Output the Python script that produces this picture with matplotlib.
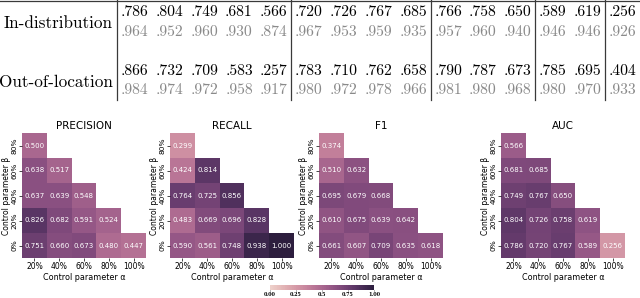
import numpy as np
import matplotlib
matplotlib.use("Agg")
import matplotlib.pyplot as plt
import seaborn as sns

# table values (top = black, bottom = gray)
row_names = ["In-distribution", "Out-of-location"]
group_sizes = [5, 4, 3, 2, 1]
in_top = [.786, .804, .749, .681, .566, .720, .726, .767, .685, .766, .758, .650, .589, .619, .256]
in_bot = [.964, .952, .960, .930, .874, .967, .953, .959, .935, .957, .960, .940, .946, .946, .926]
out_top = [.866, .732, .709, .583, .257, .783, .710, .762, .658, .790, .787, .673, .785, .695, .404]
out_bot = [.984, .974, .972, .958, .917, .980, .972, .978, .966, .981, .980, .968, .980, .970, .933]

# heatmaps: rows beta 80% -> 0%, columns alpha 20% -> 100%
alpha_labels = ["20%", "40%", "60%", "80%", "100%"]
beta_labels = ["80%", "60%", "40%", "20%", "0%"]
precision = [[0.500],
             [0.638, 0.517],
             [0.637, 0.639, 0.548],
             [0.826, 0.682, 0.591, 0.524],
             [0.751, 0.660, 0.673, 0.480, 0.447]]
recall = [[0.299],
          [0.424, 0.814],
          [0.764, 0.725, 0.856],
          [0.483, 0.669, 0.696, 0.828],
          [0.590, 0.561, 0.748, 0.938, 1.000]]
f1 = [[0.374],
      [0.510, 0.632],
      [0.695, 0.679, 0.668],
      [0.610, 0.675, 0.639, 0.642],
      [0.661, 0.607, 0.709, 0.635, 0.618]]
auc = [[0.566],
       [0.681, 0.685],
       [0.749, 0.767, 0.650],
       [0.804, 0.726, 0.758, 0.619],
       [0.786, 0.720, 0.767, 0.589, 0.256]]
panels = [("PRECISION", precision), ("RECALL", recall), ("F1", f1), ("AUC", auc)]
cbar_ticks = [0.0, 0.25, 0.5, 0.75, 1.0]
cbar_ticklabels = ["0.00", "0.25", "0.5", "0.75", "1.00"]

W, H = 640, 298
fig = plt.figure(figsize=(W / 100, H / 100), dpi=100)
cmap = sns.cubehelix_palette(as_cmap=True)

# ---- table on top, pixel coordinates
tab = fig.add_axes([0, 0, 1, 1])
tab.set_xlim(0, W)
tab.set_ylim(H, 0)
tab.axis("off")

x0, slot = 117, 34.85
bounds = [x0]
for g in group_sizes:
    bounds.append(bounds[-1] + g * slot)
for b in bounds[:-1]:
    tab.plot([b, b], [0, 100], color="#3a3a3a", lw=0.9)
tab.plot([0, W], [0.6, 0.6], color="#3a3a3a", lw=0.9)

centers = [x0 + slot * (i + 0.5) for i in range(len(in_top))]
rows = [(in_top, in_bot, 12, 32, 23), (out_top, out_bot, 71, 90, 82)]
for (top, bot, yt, yb, yl), name in zip(rows, row_names):
    tab.text(113, yl, name, ha="right", va="center", fontsize=12.3, family="cmr10")
    for cx, a, b in zip(centers, top, bot):
        tab.text(cx, yt, ("%.3f" % a)[1:], ha="center", va="center",
                 fontsize=11.3, family="cmr10", color="black")
        tab.text(cx, yb, ("%.3f" % b)[1:], ha="center", va="center",
                 fontsize=11.3, family="cmr10", color="#8a8a8a")

# ---- heatmaps
lefts = [22, 170, 319, 501]
for (title, vals), left in zip(panels, lefts):
    n = len(alpha_labels)
    grid = np.full((n, n), np.nan)
    for i, r in enumerate(vals):
        grid[i, :len(r)] = r
    data = np.ma.masked_invalid(grid)
    ax = fig.add_axes([left / W, (H - 258) / H, 124 / W, 125 / H])
    ax.pcolormesh(data, cmap=cmap, vmin=0, vmax=1)
    ax.set_xlim(0, n)
    ax.set_ylim(n, 0)
    for i, r in enumerate(vals):
        for j, v in enumerate(r):
            ax.text(j + 0.5, i + 0.5, "%.3f" % v, ha="center", va="center",
                    color="white", fontsize=5)
    ax.set_xticks(np.arange(n) + 0.5)
    ax.set_xticklabels(alpha_labels, fontsize=5.5)
    ax.set_yticks(np.arange(n) + 0.5)
    ax.set_yticklabels(beta_labels, fontsize=5.3, rotation=90, va="center")
    ax.tick_params(length=2, width=0.5, pad=1.2)
    for s in ax.spines.values():
        s.set_visible(False)
    ax.set_title(title, fontsize=7.5, pad=3)
    ax.set_xlabel("Control parameter α", fontsize=5.8, labelpad=1)
    ax.set_ylabel("Control parameter β", fontsize=5.5, labelpad=0.3)

# ---- colorbar
cax = fig.add_axes([270 / W, (H - 290) / H, 104 / W, 5 / H])
sm = matplotlib.cm.ScalarMappable(cmap=cmap, norm=plt.Normalize(0, 1))
cb = fig.colorbar(sm, cax=cax, orientation="horizontal")
cb.outline.set_visible(False)
cb.set_ticks(cbar_ticks)
cb.set_ticklabels(cbar_ticklabels)
cax.tick_params(labelsize=3.5, length=1, width=0.4, pad=0.5)
for t in cax.get_xticklabels():
    t.set_fontweight("bold")
    t.set_family("serif")

fig.savefig("out.png", dpi=100)
